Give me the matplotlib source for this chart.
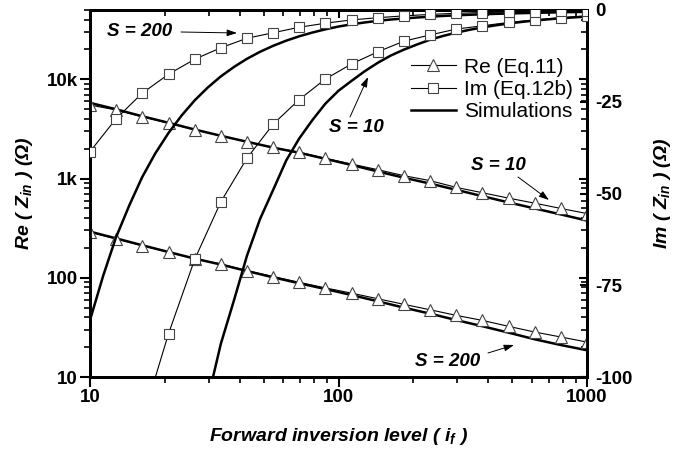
import numpy as np
import matplotlib
matplotlib.use('Agg')
import matplotlib.pyplot as plt
from matplotlib.ticker import FixedLocator, FuncFormatter, NullFormatter, LogLocator

plt.rcParams['font.family'] = ['Liberation Sans', 'DejaVu Sans']
plt.rcParams['mathtext.fontset'] = 'custom'
plt.rcParams['mathtext.it'] = 'Liberation Sans:bold:italic'
plt.rcParams['mathtext.rm'] = 'Liberation Sans:bold:italic'
plt.rcParams['mathtext.bf'] = 'Liberation Sans:bold:italic'

# ---------------- data ----------------
# inversion levels of the model markers
inversion_level = [10, 12.7, 16.2, 20.7, 26.4, 33.6, 42.8, 54.6, 69.5, 88.6,
                   112.9, 143.8, 183.3, 233.6, 297.6, 379.3, 483.3, 615.8, 784.8, 1000]
# inversion levels at which the (smooth) simulated Im curves were read
sim_level = [10, 11.3, 12.7, 14.4, 16.2, 18.3, 20.7, 23.4, 26.4, 29.8,
             33.6, 38.0, 42.8, 48.3, 54.6, 61.6, 69.5, 78.5, 88.6, 100,
             112.9, 127.4, 143.8, 162.4, 183.3, 206.9, 233.6, 263.7, 297.6, 336.0,
             379.3, 428.1, 483.3, 545.6, 615.8, 695.2, 784.8, 885.9, 1000]

re_eq11_s10 = [5500, 4930, 4200, 3620, 3100, 2700, 2350, 2060, 1840, 1600,
               1400, 1230, 1070, 953, 815, 720, 635, 565, 500, 444]
re_eq11_s200 = [288, 247, 211, 181, 155, 138, 118, 103, 90, 79,
                70, 61.5, 54, 47.6, 41.8, 37.2, 32.4, 28.4, 25.3, 22.5]
re_sim_s10 = [5800, 5000, 4250, 3650, 3120, 2700, 2350, 2050, 1820, 1580,
              1370, 1180, 1020, 890, 770, 665, 575, 500, 435, 377]
re_sim_s200 = [292, 250, 213, 182, 156, 136, 117, 101, 88, 77,
               67, 58, 50, 43.5, 37.5, 32.5, 28, 24, 21, 18.6]

im_eq12b_s10 = [np.nan, np.nan, -112, -88.2, -67.9, -52.3, -40.4, -31.1, -24.4, -18.8,
                -14.7, -11.4, -8.5, -6.8, -5.2, -4.3, -3.4, -2.7, -2.1, -1.6]
im_eq12b_s200 = [-38.6, -29.7, -22.7, -17.5, -13.4, -10.3, -7.7, -6.2, -4.7, -3.6,
                 -2.7, -2.1, -1.6, -1.2, -0.9, -0.7, -0.55, -0.45, -0.35, -0.3]
im_sim_s10 = [np.nan, np.nan, np.nan, np.nan, np.nan, np.nan, np.nan, np.nan, np.nan, -106,
              -91, -79, -67, -57, -49, -41, -35, -30, -25.5, -22,
              -19.3, -16.7, -14.4, -12.4, -10.8, -9.4, -8.1, -7.06, -6.18, -5.41,
              -4.75, -4.18, -3.68, -3.25, -2.88, -2.55, -2.26, -2.01, -1.8]
im_sim_s200 = [-84.5, -72.4, -62.1, -53.2, -45.6, -39.1, -33.5, -28.7, -24.6, -21.1,
               -18.1, -15.5, -13.3, -11.4, -9.75, -8.36, -7.16, -6.14, -5.26, -4.51,
               -3.9, -3.4, -2.95, -2.6, -2.3, -2.05, -1.82, -1.62, -1.45, -1.3,
               -1.17, -1.05, -0.95, -0.86, -0.78, -0.7, -0.63, -0.56, -0.5]

left_ticks = [10, 100, 1000, 10000]
left_tick_labels = ['10', '100', '1k', '10k']
right_ticks = [-100, -75, -50, -25, 0]
x_ticks = [10, 100, 1000]

# ---------------- figure ----------------
W, H = 684, 455
fig = plt.figure(figsize=(W / 100, H / 100), dpi=100)
ax = fig.add_axes([90 / W, 1 - 377 / H, 497 / W, 367 / H])
ax.set_xscale('log')
ax.set_yscale('log')
ax.set_xlim(10, 1000)
ax.set_ylim(10, 5e4)

tri = dict(marker='^', markersize=8, markerfacecolor='white', markeredgecolor='#444444',
           markeredgewidth=0.8, color='black', lw=0.8)
sq = dict(marker='s', markersize=7, markerfacecolor='white', markeredgecolor='#444444',
          markeredgewidth=0.8, color='black', lw=0.8)
sim = dict(color='black', lw=1.8)

ax.plot(inversion_level, re_sim_s10, **sim, zorder=2)
ax.plot(inversion_level, re_sim_s200, **sim, zorder=2)
l_re, = ax.plot(inversion_level, re_eq11_s10, **tri, zorder=3)
ax.plot(inversion_level, re_eq11_s200, **tri, zorder=3)

ax2 = ax.twinx()
ax2.set_ylim(-100, 0)
l_sim, = ax2.plot(sim_level, im_sim_s10, **sim, zorder=2)
ax2.plot(sim_level, im_sim_s200, **sim, zorder=2)
l_im, = ax2.plot(inversion_level, im_eq12b_s10, **sq, zorder=3)
ax2.plot(inversion_level, im_eq12b_s200, **sq, zorder=3)

# ticks
label_map = dict(zip(left_ticks, left_tick_labels))
ax.xaxis.set_major_locator(FixedLocator(x_ticks))
ax.xaxis.set_major_formatter(FuncFormatter(lambda v, p: f'{v:g}'))
ax.xaxis.set_minor_locator(LogLocator(base=10, subs=np.arange(2, 10)))
ax.xaxis.set_minor_formatter(NullFormatter())
ax.yaxis.set_major_locator(FixedLocator(left_ticks))
ax.yaxis.set_major_formatter(FuncFormatter(lambda v, p: label_map.get(int(round(v)), '')))
ax.yaxis.set_minor_locator(LogLocator(base=10, subs=np.arange(2, 10)))
ax.yaxis.set_minor_formatter(NullFormatter())
ax.tick_params(which='major', direction='out', length=7, width=1.5, labelsize=13.5,
               top=False, right=False, pad=2)
ax.tick_params(which='minor', direction='out', length=4, width=1.2, top=False, right=False)

secx = ax.secondary_xaxis('top')
secx.xaxis.set_major_locator(FixedLocator(x_ticks))
secx.xaxis.set_minor_locator(LogLocator(base=10, subs=np.arange(2, 10)))
secx.xaxis.set_major_formatter(NullFormatter())
secx.xaxis.set_minor_formatter(NullFormatter())
secx.tick_params(which='major', direction='in', length=6, width=1.5)
secx.tick_params(which='minor', direction='in', length=4, width=1.2)

secy = ax.secondary_yaxis('right')
secy.yaxis.set_major_locator(FixedLocator(left_ticks))
secy.yaxis.set_minor_locator(LogLocator(base=10, subs=np.arange(2, 10)))
secy.yaxis.set_major_formatter(NullFormatter())
secy.yaxis.set_minor_formatter(NullFormatter())
secy.tick_params(which='major', direction='in', length=6, width=1.5)
secy.tick_params(which='minor', direction='in', length=4, width=1.2)

ax2.yaxis.set_major_locator(FixedLocator(right_ticks))
ax2.yaxis.set_major_formatter(FuncFormatter(lambda v, p: f'{v:g}'))
ax2.tick_params(which='major', direction='in', length=5, width=1.5, labelsize=13.5, pad=6)

for a in (ax, ax2):
    for lab in a.get_xticklabels() + a.get_yticklabels():
        lab.set_fontweight('bold')
for a in (ax, ax2, secx, secy):
    for s in a.spines.values():
        s.set_linewidth(2)

# labels
ax.set_xlabel('Forward inversion level ( $i_f$ )', fontsize=14, fontweight='bold',
              fontstyle='italic', labelpad=14)
ax.set_ylabel('Re ( $Z_{in}$ ) (\u03a9)', fontsize=14, fontweight='bold',
              fontstyle='italic', labelpad=8)
ax2.set_ylabel('Im ( $Z_{in}$ ) (\u03a9)', fontsize=14, fontweight='bold',
               fontstyle='italic', labelpad=14)

# legend
leg = ax2.legend([l_re, l_im, l_sim], ['Re (Eq.11)', 'Im (Eq.12b)', 'Simulations'],
                 loc='upper left', bbox_to_anchor=(0.645, 0.87), frameon=False,
                 fontsize=15, handlelength=2.2, handletextpad=0.35, labelspacing=0.15,
                 borderpad=0, borderaxespad=0, numpoints=1)

# annotations (figure pixel coordinates measured from the top-left)
def fp(px, py):
    return (px, H - py)

notes = [
    ('S = 200', (140, 31), (181, 32), (237, 33)),
    ('S = 10', (356, 128), (350, 117), (368, 77)),
    ('S = 10', (498, 165), (518, 177), (549, 200)),
    ('S = 200', (448, 362), (488, 353), (514, 345)),
]
for txt, c, tail, tip in notes:
    fig.text(c[0] / W, 1 - c[1] / H, txt, ha='center', va='center', fontsize=13.5,
             fontweight='bold', fontstyle='italic')
    ax.annotate('', xy=fp(*tip), xycoords='figure pixels', xytext=fp(*tail),
                textcoords='figure pixels',
                arrowprops=dict(arrowstyle='-|>,head_length=0.6,head_width=0.2',
                                lw=0.7, color='black', shrinkA=0, shrinkB=0))

fig.savefig('out.png', dpi=100)
